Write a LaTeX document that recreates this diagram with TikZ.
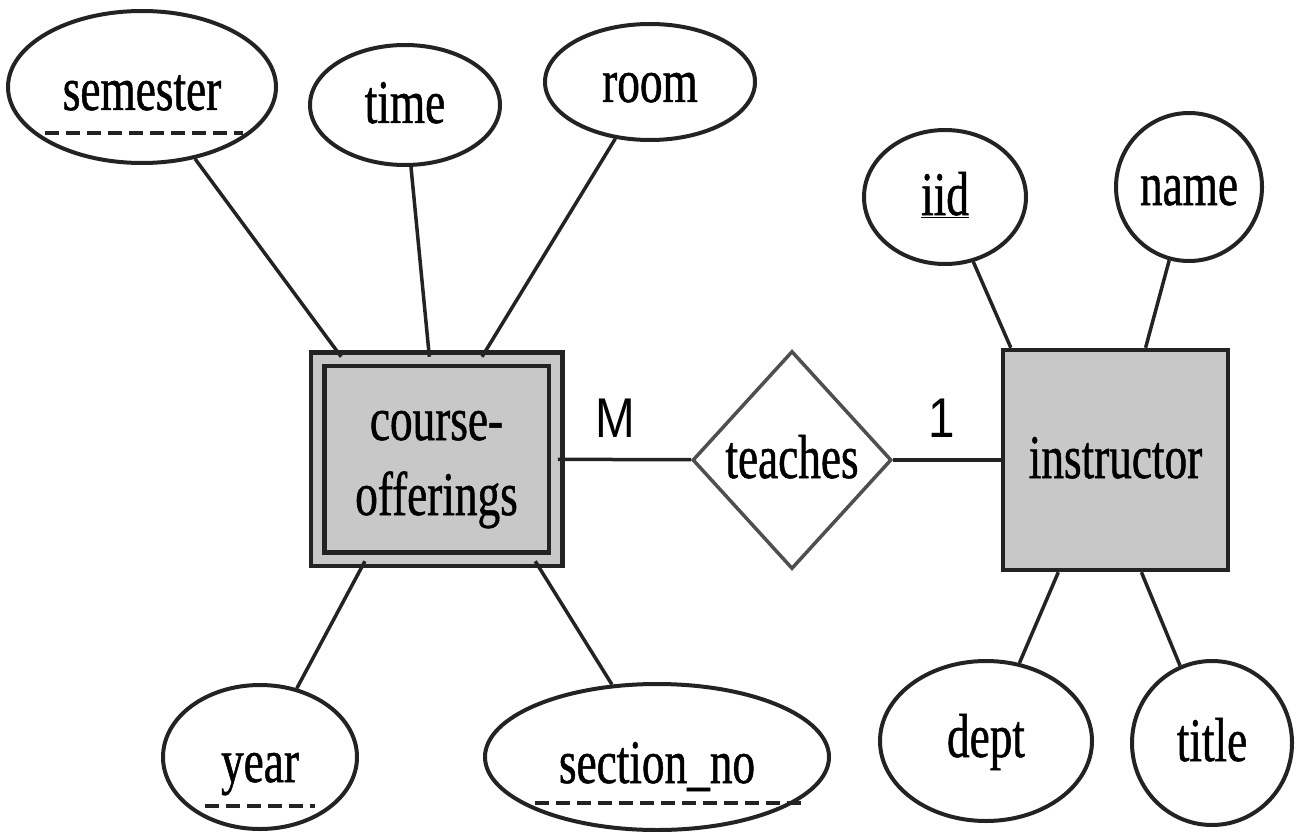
\documentclass[tikz,border=0pt]{standalone}
\usepackage{fontspec}
\newfontfamily\erfont[FakeStretch=0.73,FakeBold=0.8]{Liberation Serif}
\newfontfamily\cardfont[FakeStretch=0.85]{Liberation Sans}
\usetikzlibrary{shapes.geometric}
\definecolor{boxgray}{RGB}{200,200,200}
\definecolor{inkgray}{RGB}{35,35,35}

\begin{document}
\begin{tikzpicture}[x=1pt, y=-1pt,
    erfont/.style={font=\erfont\fontsize{62}{75}\selectfont, text height=36pt, text depth=0pt},
    attr/.style={ellipse, draw=inkgray, line width=4pt, inner sep=0pt, erfont},
    entity/.style={rectangle, draw=inkgray, line width=4.5pt, fill=boxgray, inner sep=0pt, erfont},
    weakentity/.style={entity, double=boxgray, double distance=9pt},
    relation/.style={diamond, draw=inkgray!80, line width=3.5pt, inner sep=0pt, erfont},
    card/.style={font=\cardfont\fontsize{56}{60}\selectfont},
    link/.style={draw=inkgray, line width=3.5pt},
    keydash/.style={inkgray, line width=4pt, dash pattern=on 14pt off 7pt}]
    \useasboundingbox (0,0) rectangle (1311,832);

    % Weak entity and its attributes
    \node (co) at (436.5,459) [weakentity, minimum width=238, minimum height=200, align=center, text height=112pt] {course-\\offerings};
    \node (sem) at (142,87) [attr, minimum width=268, minimum height=152, text height=46pt] {semester};
    \node (time) at (405,105) [attr, minimum width=190, minimum height=120] {time};
    \node (room) at (650,82) [attr, minimum width=210, minimum height=116, text height=40pt] {room};
    \node (year) at (260,757) [attr, minimum width=194, minimum height=144, text height=50pt] {year};
    \node (sec) at (657,757) [attr, minimum width=344, minimum height=146, text height=52pt] {section\_no};

    % Partial key underlines
    \draw[keydash] (45,133) -- (243,133);
    \draw[keydash] (205,806) -- (315,806);
    \draw[keydash] (535,803) -- (805,803);

    % Relationship
    \node (teaches) at (792,460) [relation, minimum width=199, minimum height=218] {teaches};

    % Strong entity and its attributes
    \node (ins) at (1115.5,460) [entity, minimum width=225, minimum height=220] {instructor};
    \node (iid) at (945,197) [attr, minimum width=162, minimum height=134] {\underline{iid}};
    \node (name) at (1189,187) [attr, minimum width=146, minimum height=148] {name};
    \node (dept) at (986,741) [attr, minimum width=212, minimum height=160, text height=32pt] {dept};
    \node (title) at (1212,743) [attr, minimum width=160, minimum height=164] {title};

    % Cardinalities
    \node (many) at (615,418) [card] {M};
    \node (one) at (942,418) [card] {1};

    % Connectors
    \draw[link] (sem) -- (co.133);
    \draw[link] (time) -- (co.94);
    \draw[link] (room) -- (co.66);
    \draw[link] (year) -- (co.-125);
    \draw[link] (sec) -- (co.-46);
    \draw[link] (co) -- (teaches);
    \draw[link] (teaches) -- (ins);
    \draw[link] (iid) -- (ins.133);
    \draw[link] (name) -- (ins.75);
    \draw[link] (dept) -- (ins.-117);
    \draw[link] (title) -- (ins.-77);
\end{tikzpicture}
\end{document}
